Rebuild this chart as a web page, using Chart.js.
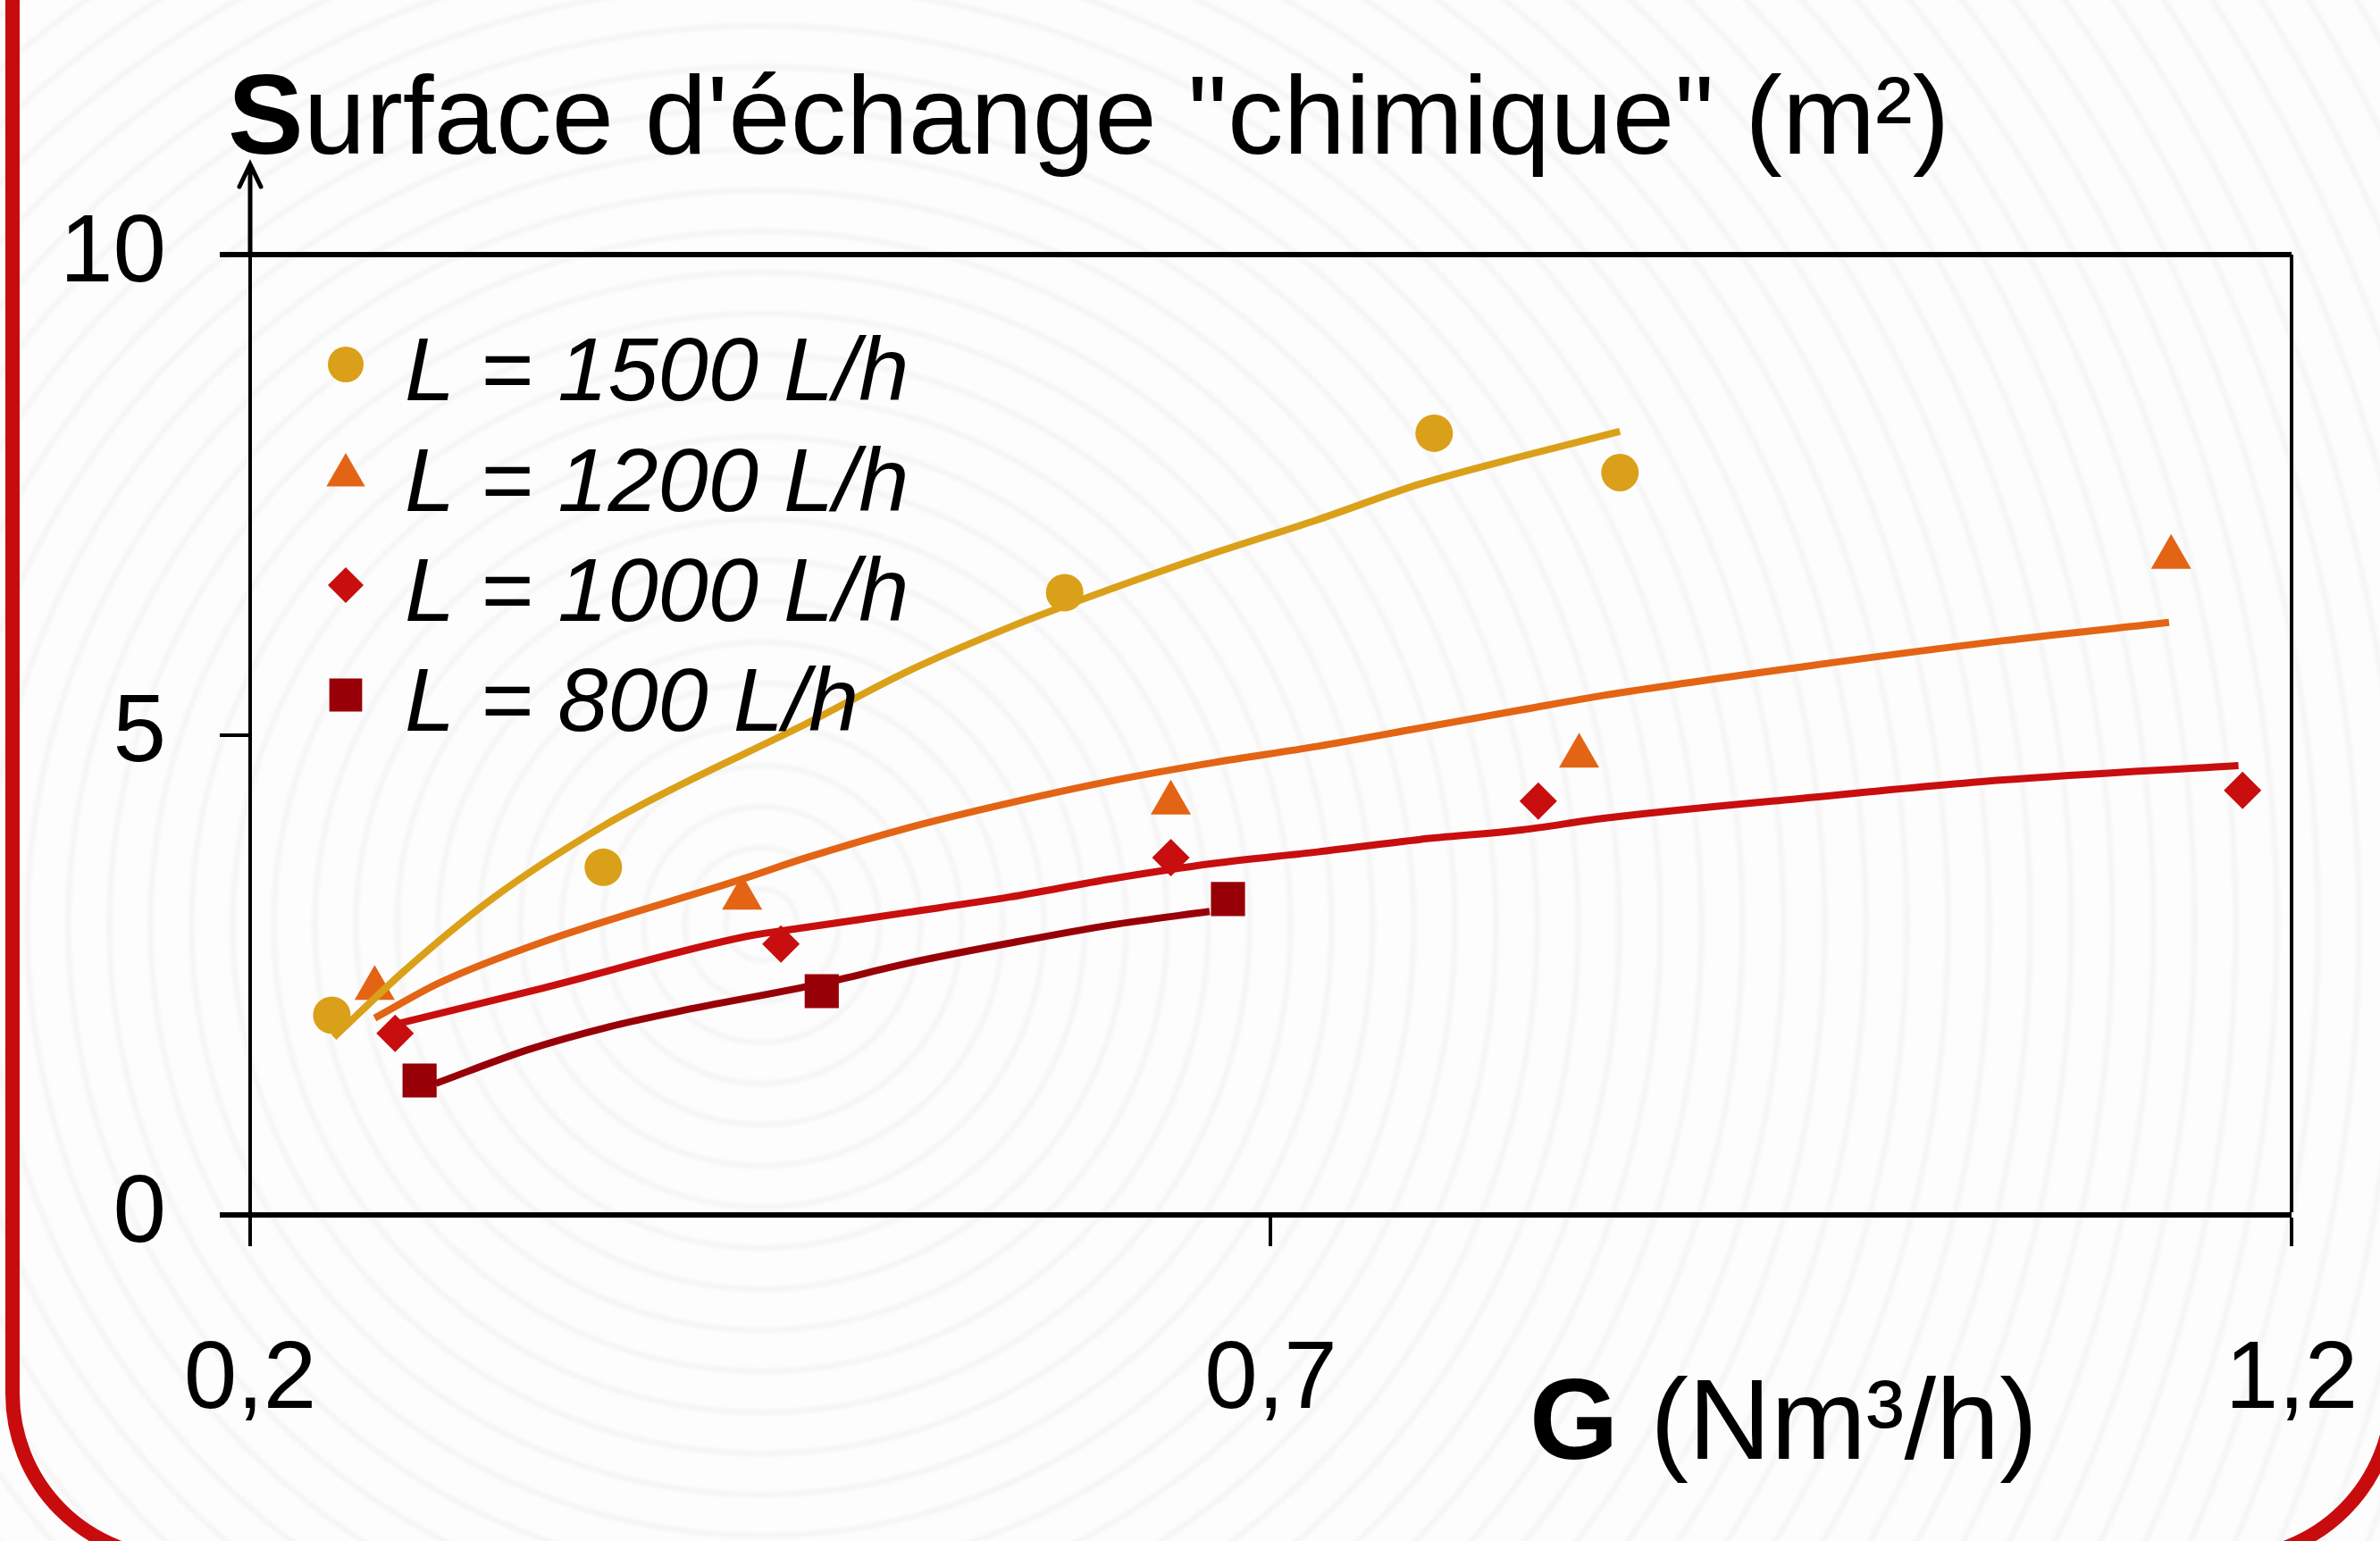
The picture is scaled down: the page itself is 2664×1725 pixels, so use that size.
<!DOCTYPE html>
<html>
<head>
<meta charset="utf-8">
<script src="https://cdn.jsdelivr.net/npm/chart.js@4/dist/chart.umd.min.js"></script>
<style>
  html, body { margin: 0; padding: 0; }
  body {
    width: 2664px; height: 1725px; overflow: hidden; position: relative;
    background-color: #fcfcfc;
    background-image: repeating-radial-gradient(circle at 32% 60%, #fdfdfd 0px, #fdfdfd 34px, #f5f5f5 40px, #fdfdfd 46px);
  }
  #frame {
    position: absolute; left: 6px; top: -60px; width: 2680px; height: 1812px;
    box-sizing: border-box; border: 16px solid #c80c0e;
    border-radius: 0 0 192px 192px; pointer-events: none;
  }
  canvas { position: absolute; left: 0; top: 0; }
</style>
</head>
<body>
<div id="frame"></div>
<canvas id="chart" width="2664" height="1725"></canvas>
<script>
// measured points
const g1500 = [0.240, 0.373, 0.599, 0.780, 0.871];
const s1500 = [2.08, 3.62, 6.48, 8.14, 7.73];
const g1200 = [0.261, 0.441, 0.651, 0.851, 1.141];
const s1200 = [2.36, 3.30, 4.29, 4.78, 6.85];
const g1000 = [0.271, 0.460, 0.651, 0.831, 1.176];
const s1000 = [1.89, 2.82, 3.72, 4.31, 4.42];
const g800 = [0.283, 0.480, 0.679];
const s800 = [1.40, 2.33, 3.29];

// fitted curves
const fitG1500 = [0.241, 0.276, 0.319, 0.373, 0.410, 0.471, 0.522, 0.572, 0.622, 0.672, 0.723, 0.773, 0.823, 0.871];
const fitS1500 = [1.85, 2.55, 3.30, 4.05, 4.47, 5.10, 5.66, 6.12, 6.52, 6.89, 7.24, 7.61, 7.90, 8.16];
const fitG1200 = [0.261, 0.293, 0.343, 0.443, 0.471, 0.522, 0.572, 0.622, 0.672, 0.723, 0.773, 0.823, 0.863, 0.961, 1.059, 1.140];
const fitS1200 = [2.05, 2.42, 2.84, 3.51, 3.71, 4.03, 4.29, 4.52, 4.71, 4.88, 5.07, 5.26, 5.41, 5.71, 5.98, 6.17];
const fitG1000 = [0.272, 0.343, 0.443, 0.471, 0.522, 0.572, 0.622, 0.672, 0.723, 0.773, 0.823, 0.863, 0.961, 1.059, 1.174];
const fitS1000 = [1.99, 2.36, 2.90, 2.99, 3.15, 3.31, 3.50, 3.66, 3.78, 3.91, 4.01, 4.13, 4.34, 4.53, 4.68];
const fitG800 = [0.291, 0.336, 0.376, 0.410, 0.480, 0.522, 0.572, 0.622, 0.670];
const fitS800 = [1.37, 1.72, 1.96, 2.12, 2.41, 2.62, 2.83, 3.02, 3.16];

const labels = ['L = 1500 L/h', 'L = 1200 L/h', 'L = 1000 L/h', 'L = 800 L/h'];
const colors = ['#dba019', '#e36414', '#c80e0e', '#980008'];
const styles = ['circle', 'triangle', 'rectRot', 'rect'];
const radii = [21, 26, 21, 27];

const xTicks = [0.2, 0.7, 1.2];
const xTickLabels = ['0,2', '0,7', '1,2'];
const yTicks = [0, 5, 10];
const yTickLabels = ['0', '5', '10'];

const FONT = "'Liberation Sans', Arial, sans-serif";
const pts = (g, s) => g.map((x, i) => ({ x, y: s[i] }));

const fits = [[fitG1500, fitS1500], [fitG1200, fitS1200], [fitG1000, fitS1000], [fitG800, fitS800]];
const meas = [[g1500, s1500], [g1200, s1200], [g1000, s1000], [g800, s800]];

const datasets = [];
fits.forEach(([g, s], i) => datasets.push({
  label: 'fit ' + labels[i], data: pts(g, s), showLine: true, borderColor: colors[i],
  borderWidth: 8, pointRadius: 0, cubicInterpolationMode: 'monotone', fill: false
}));
meas.forEach(([g, s], i) => datasets.push({
  label: labels[i], data: pts(g, s), showLine: false, pointStyle: styles[i],
  pointRadius: radii[i], pointHoverRadius: radii[i], pointBackgroundColor: colors[i],
  pointBorderWidth: 0, borderColor: colors[i]
}));

const decor = {
  id: 'decor',
  afterDraw(chart) {
    const { ctx, chartArea } = chart;
    ctx.save();
    ctx.fillStyle = '#000';
    ctx.strokeStyle = '#000';
    // y axis arrow
    ctx.lineWidth = 5;
    ctx.lineCap = 'round';
    ctx.beginPath();
    ctx.moveTo(chartArea.left, chartArea.top);
    ctx.lineTo(chartArea.left, 184);
    ctx.moveTo(chartArea.left - 12, 209);
    ctx.lineTo(chartArea.left, 184);
    ctx.lineTo(chartArea.left + 12, 209);
    ctx.stroke();
    // title
    ctx.textBaseline = 'alphabetic';
    ctx.textAlign = 'left';
    ctx.font = 'bold 127px ' + FONT;
    ctx.fillText('S', 255, 172);
    const sw = ctx.measureText('S').width;
    ctx.font = '125px ' + FONT;
    ctx.fillText('urface d\'échange "chimique" (m²)', 255 + sw, 172);
    // x title
    ctx.font = 'bold 128px ' + FONT;
    ctx.fillText('G', 1712, 1633);
    const gw = ctx.measureText('G').width;
    ctx.font = '128px ' + FONT;
    ctx.fillText(' (Nm³/h)', 1712 + gw, 1633);
    // legend
    const rows = [408, 532, 655, 778];
    rows.forEach((y, i) => {
      ctx.fillStyle = colors[i];
      Chart.helpers.drawPoint(ctx, { pointStyle: styles[i], rotation: 0, radius: radii[i] - 1, borderWidth: 0 }, 387, y);
      ctx.fillStyle = '#000';
      ctx.font = 'italic 101px ' + FONT;
      ctx.fillText(labels[i], 453, y + 40);
    });
    ctx.restore();
  }
};

new Chart(document.getElementById('chart'), {
  type: 'scatter',
  data: { datasets },
  options: {
    responsive: false,
    animation: false,
    layout: { padding: { left: 0, top: 285, right: 99, bottom: 0 } },
    plugins: { legend: { display: false }, tooltip: { enabled: false } },
    scales: {
      x: {
        type: 'linear', min: 0.2, max: 1.2,
        afterFit: s => { s.height = 365; s.paddingLeft = 0; s.paddingRight = 0; },
        afterBuildTicks: s => { s.ticks = xTicks.map(v => ({ value: v })); },
        ticks: {
          callback: (v, i) => xTickLabels[i], color: '#000', padding: 98, maxRotation: 0,
          font: { family: FONT, size: 107, lineHeight: 1 }
        },
        grid: {
          drawOnChartArea: true, drawTicks: true, tickLength: 35,
          color: '#000', tickColor: '#000', tickWidth: 4,
          lineWidth: c => (c.tick && c.tick.value === 1.2 ? 4 : 0)
        },
        border: { display: true, color: '#000', width: 6 }
      },
      y: {
        type: 'linear', min: 0, max: 10,
        afterFit: s => { s.width = 280; s.paddingTop = 0; s.paddingBottom = 0; },
        afterBuildTicks: s => { s.ticks = yTicks.map(v => ({ value: v })); },
        ticks: {
          callback: (v, i) => yTickLabels[i], color: '#000', padding: 60,
          font: { family: FONT, size: 107, lineHeight: 1 }
        },
        grid: {
          drawOnChartArea: true, drawTicks: true, tickLength: 34,
          color: '#000', tickColor: '#000', tickWidth: c => (c.tick && c.tick.value === 5 ? 4 : 6),
          lineWidth: c => (c.tick && c.tick.value === 10 ? 6 : 0)
        },
        border: { display: true, color: '#000', width: 4 }
      }
    }
  },
  plugins: [decor]
});
</script>
</body>
</html>
